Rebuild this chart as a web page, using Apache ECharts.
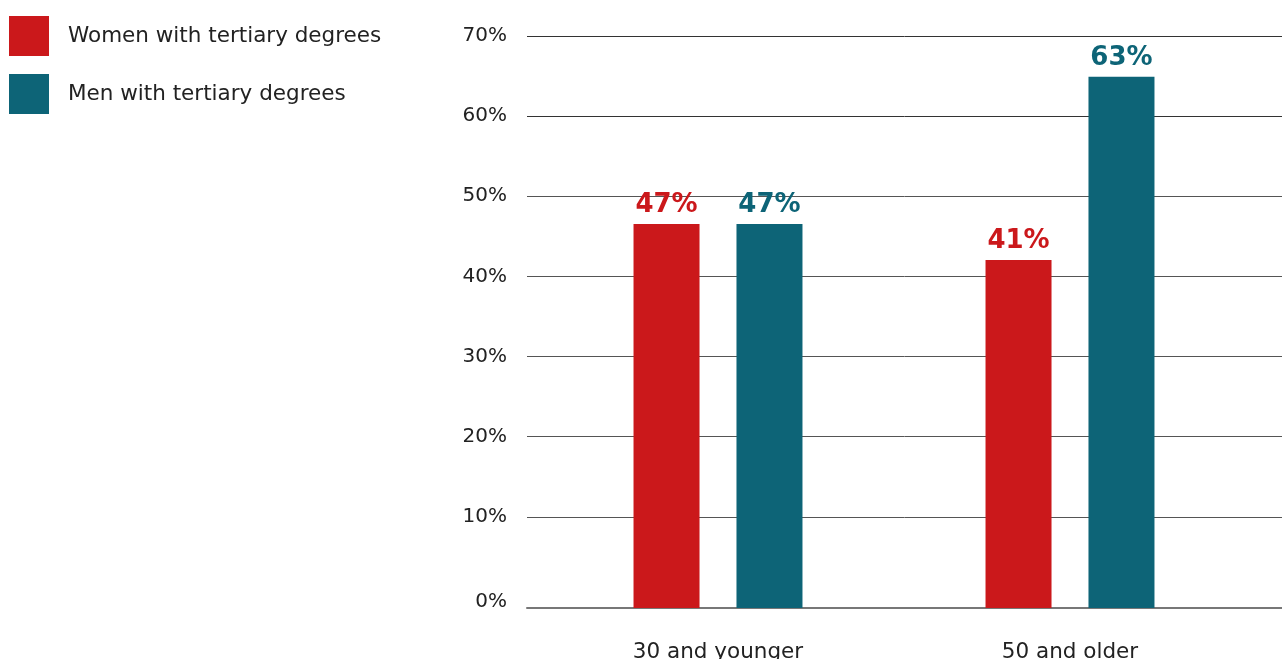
<!DOCTYPE html>
<html>
<head>
<meta charset="utf-8">
<script src="https://cdn.jsdelivr.net/npm/echarts@6/dist/echarts.min.js"></script>
<style>
html,body{margin:0;padding:0;background:#fff;}
#chart{width:1282px;height:659px;}
</style>
</head>
<body>
<div id="chart"></div>
<script>
// Data
const categories = ['30 and younger', '50 and older'];
const seriesNames = ['Women with tertiary degrees', 'Men with tertiary degrees'];
// bar heights as drawn (percent)
const womenValues = [47, 42.6];
const menValues = [47, 65];
// printed value labels
const womenLabels = ['47%', '41%'];
const menLabels = ['47%', '63%'];
const yTickMax = 70;

const RED = '#CB181B';
const TEAL = '#0D6477';
const FONT = 'DejaVu Sans';

const chart = echarts.init(document.getElementById('chart'), null, {renderer: 'canvas'});

function barLabel(labels, color) {
  return {
    show: true,
    position: 'top',
    distance: 6,
    fontFamily: FONT,
    fontWeight: 'bold',
    fontSize: 26,
    color: color,
    formatter: p => labels[p.dataIndex]
  };
}

chart.setOption({
  animation: false,
  backgroundColor: '#fff',
  legend: {
    orient: 'vertical',
    left: 9,
    top: 16,
    padding: 0,
    itemWidth: 40,
    itemHeight: 40,
    itemGap: 18,
    icon: 'rect',
    data: seriesNames,
    textStyle: {fontFamily: FONT, fontSize: 21.5, color: '#222', padding: [0, 0, 6, 14]}
  },
  grid: [
    {left: 527, right: 0, top: 36, bottom: 51, outerBoundsMode: 'none', containLabel: false},
    {left: 542, width: 704, top: 36, bottom: 51, outerBoundsMode: 'none', containLabel: false}
  ],
  xAxis: [
    {
      gridIndex: 0, type: 'value', min: 0, max: 1,
      axisLine: {show: true, onZero: false, lineStyle: {color: '#777', width: 2}},
      axisTick: {show: false}, axisLabel: {show: false}, splitLine: {show: false}
    },
    {
      gridIndex: 1, type: 'category', data: categories,
      axisLine: {show: false}, axisTick: {show: false},
      axisLabel: {fontFamily: FONT, fontSize: 21.5, color: '#222', margin: 33}
    }
  ],
  yAxis: [
    {
      gridIndex: 0, type: 'value', min: -1.37, max: yTickMax, splitNumber: 7,
      axisLine: {show: false}, axisTick: {show: false},
      axisLabel: {
        fontFamily: FONT, fontSize: 20, color: '#222', margin: 20,
        formatter: v => (v < 0 ? '' : (Math.round(v) === 0 ? '{z|0%}' : Math.round(v) + '%')),
        rich: {z: {fontFamily: FONT, fontSize: 20, color: '#222', padding: [10, 0, 0, 0]}}
      },
      splitLine: {
        show: true,
        lineStyle: {
          color: ['#777', 'rgba(0,0,0,0)', '#555', '#555', '#555', '#555', '#555', '#333', '#333'],
          width: 1
        }
      }
    },
    {
      gridIndex: 1, type: 'value', min: 0, max: yTickMax, show: false
    }
  ],
  series: [
    {
      name: seriesNames[0], type: 'bar', xAxisIndex: 1, yAxisIndex: 1,
      data: womenValues, barWidth: 66, barGap: '56%',
      itemStyle: {color: RED},
      label: barLabel(womenLabels, RED)
    },
    {
      name: seriesNames[1], type: 'bar', xAxisIndex: 1, yAxisIndex: 1,
      data: menValues, barWidth: 66, barGap: '56%',
      itemStyle: {color: TEAL},
      label: barLabel(menLabels, TEAL)
    }
  ]
});
</script>
</body>
</html>
